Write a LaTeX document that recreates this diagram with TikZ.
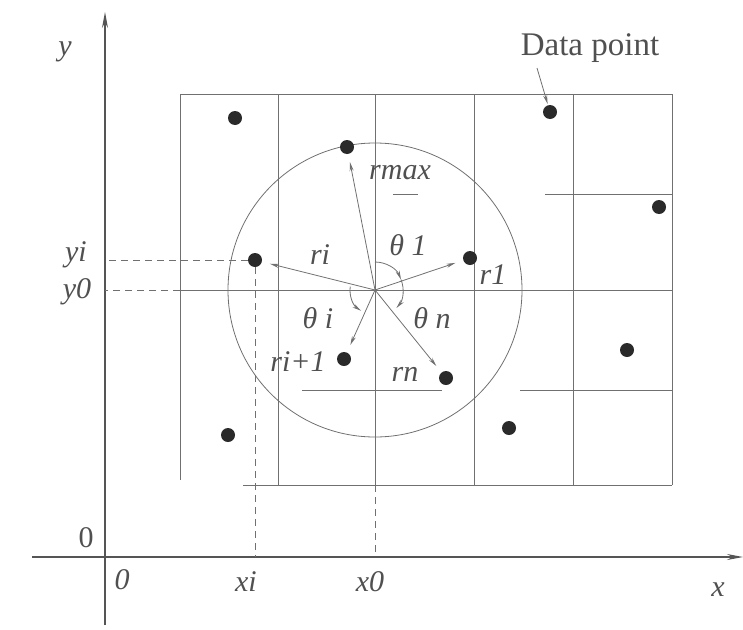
\documentclass[tikz,border=0pt]{standalone}
\usepackage{fontspec}
\setmainfont{Liberation Serif}
\newfontfamily\figfont{Liberation Serif}
\usetikzlibrary{arrows.meta}
\definecolor{gridgray}{HTML}{707070}
\definecolor{inkgray}{HTML}{2A2A2A}
\definecolor{labelgray}{HTML}{505050}
\tikzset{
  dot/.style={circle,fill=inkgray,inner sep=0pt,minimum size=14pt},
  lbl/.style={text=labelgray,font=\figfont\fontsize{30}{32}\selectfont\itshape,inner sep=0pt},
  ray/.style={->,shorten >=8pt},
  proj/.style={dash pattern=on 7pt off 5pt},
  axis/.style={line width=1.2pt,color=inkgray!80,-{Stealth[length=16pt,width=6pt]}},
}

\begin{document}
\begin{tikzpicture}[x=1pt,y=-1pt,>={Stealth[length=9pt,width=4pt]},line width=0.8pt,color=gridgray]
  \useasboundingbox (0,0) rectangle (743,629);
  % axes
  \coordinate (O) at (105,557);
  \coordinate (ytail) at (105,625);
  \coordinate (yhead) at (105,12);
  \coordinate (xtail) at (32,557);
  \coordinate (xhead) at (743,557);
  \draw[axis] (ytail) -- (yhead);
  \draw[axis] (xtail) -- (xhead);
  % grid
  \foreach \x in {278,375,474,573,672}
    \draw (\x,94) -- (\x,485);
  \draw (180,94) -- (180,480);
  \draw (180,94) -- (672,94);
  \draw (243,485) -- (672,485);
  \draw (180,290) -- (672,290);
  \draw (545,194) -- (672,194);
  \draw (393,194) -- (418,194);
  \draw (302,390) -- (442,390);
  \draw (520,390) -- (672,390);
  % search circle
  \coordinate (ctr) at (375,290);
  \draw (ctr) circle[radius=147pt];
  % data points
  \foreach \x/\y/\n in {235/118/a,550/112/b,659/207/c,627/350/d,509/428/e,228/435/f}
    \node[dot] (d\n) at (\x,\y) {};
  \node[dot] (pmax) at (347,147) {};
  \node[dot] (pi) at (255,260) {};
  \node[dot] (pone) at (470,258) {};
  \node[dot] (pnext) at (344,359) {};
  \node[dot] (pn) at (446,378) {};
  % projections
  \draw[proj] (pi) -- (pi -| O);
  \draw[proj] (180,290) -- (ctr -| O);
  \draw[proj] (pi) -- (pi |- O);
  \draw[proj] (375,485) -- (ctr |- O);
  % rays
  \draw[ray] (ctr) -- (pmax);
  \draw[ray] (ctr) -- (pi);
  \draw[ray] (ctr) -- (pone);
  \draw[ray] (ctr) -- (pnext);
  \draw[ray] (ctr) -- (pn);
  % angles
  \draw[->] ([shift={(90:28pt)}]ctr) arc[start angle=90,end angle=22,radius=28pt];
  \draw[->] ([shift={(22:28pt)}]ctr) arc[start angle=22,end angle=-40,radius=28pt];
  \draw[->] ([shift={(172:25pt)}]ctr) arc[start angle=172,end angle=236,radius=25pt];
  % labels
  \node[lbl] (ly) at (65,52) {y};
  \node[lbl] (lyi) at (76,255) {yi};
  \node[lbl] (lyz) at (77,292) {y0};
  \node[lbl,font=\figfont\fontsize{30}{32}\selectfont] (lo) at (86,538) {0};
  \node[lbl] (lox) at (122,580) {0};
  \node[lbl] (lxi) at (246,582) {xi};
  \node[lbl] (lxz) at (370,582) {x0};
  \node[lbl] (lx) at (718,590) {x};
  \node[lbl] (lrmax) at (400,173) {rmax};
  \node[lbl] (lri) at (320,255) {ri};
  \node[lbl] (lr1) at (493,275) {r1};
  \node[lbl] (lrnext) at (298,362) {ri+1};
  \node[lbl] (lrn) at (405,374) {rn};
  \node[lbl] (lt1) at (408,245) {θ 1};
  \node[lbl] (lti) at (318,318) {θ i};
  \node[lbl] (ltn) at (432,318) {θ n};
  \node[text=labelgray,font=\figfont\fontsize{33}{35}\selectfont,inner sep=0pt] (ldp) at (590,48) {Data point};
  \coordinate (dptail) at (537,68);
  \draw[->,shorten >=1pt] (dptail) -- (db);
\end{tikzpicture}
\end{document}
